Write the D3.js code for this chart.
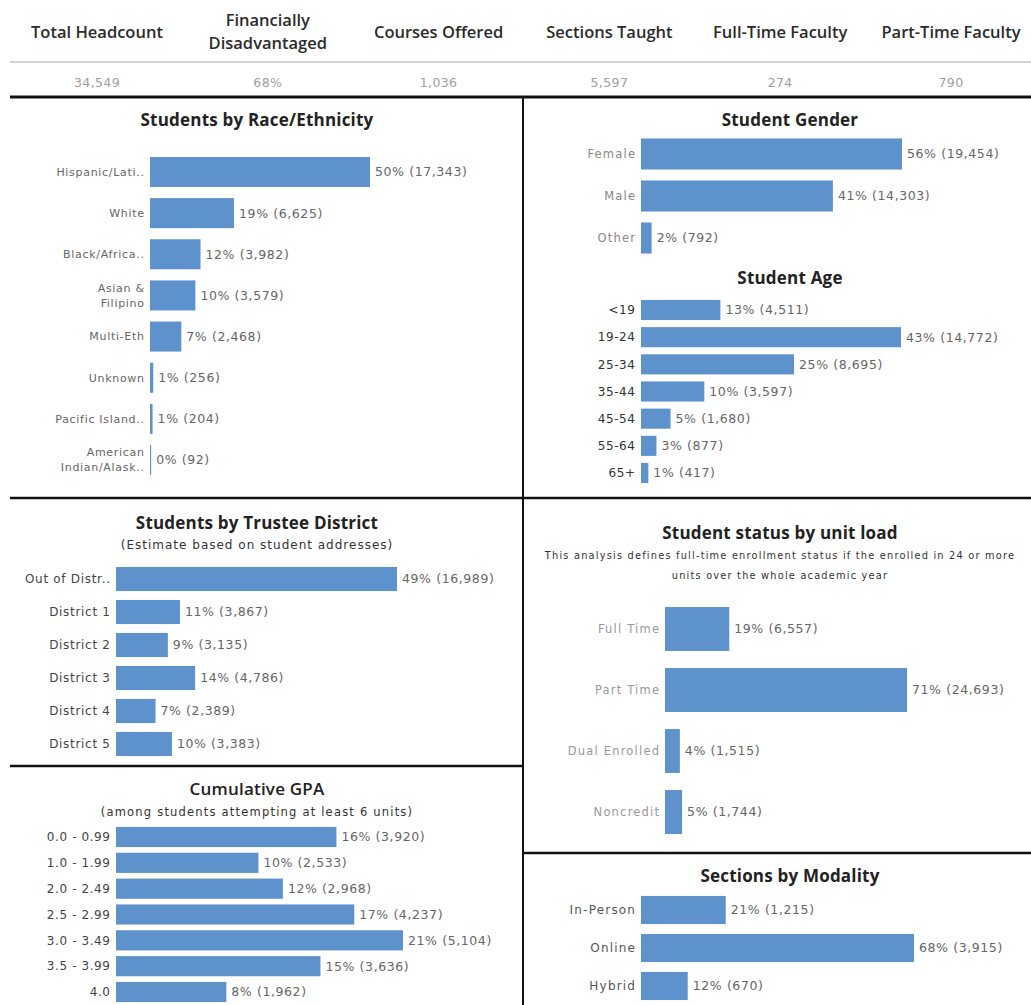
<!DOCTYPE html>
<html>
<head>
<meta charset="utf-8">
<script src="https://cdn.jsdelivr.net/npm/d3@7"></script>
<style>
  body { margin: 0; background: #fff; }
  svg { display: block; }
</style>
</head>
<body>
<script>
// header numbers
var kpiNames = [["Total Headcount"], ["Financially", "Disadvantaged"], ["Courses Offered"],
                ["Sections Taught"], ["Full-Time Faculty"], ["Part-Time Faculty"]];
var kpiValues = ["34,549", "68%", "1,036", "5,597", "274", "790"];

// race / ethnicity
var raceCats = [["Hispanic/Lati.."], ["White"], ["Black/Africa.."], ["Asian &", "Filipino"],
                ["Multi-Eth"], ["Unknown"], ["Pacific Island.."], ["American", "Indian/Alask.."]];
var raceCounts = [17343, 6625, 3982, 3579, 2468, 256, 204, 92];
var racePcts = [50, 19, 12, 10, 7, 1, 1, 0];

// gender
var genderCats = [["Female"], ["Male"], ["Other"]];
var genderCounts = [19454, 14303, 792];
var genderPcts = [56, 41, 2];

// age
var ageCats = [["<19"], ["19-24"], ["25-34"], ["35-44"], ["45-54"], ["55-64"], ["65+"]];
var ageCounts = [4511, 14772, 8695, 3597, 1680, 877, 417];
var agePcts = [13, 43, 25, 10, 5, 3, 1];

// trustee district
var districtCats = [["Out of Distr.."], ["District 1"], ["District 2"], ["District 3"],
                    ["District 4"], ["District 5"]];
var districtCounts = [16989, 3867, 3135, 4786, 2389, 3383];
var districtPcts = [49, 11, 9, 14, 7, 10];

// unit load
var unitCats = [["Full Time"], ["Part Time"], ["Dual Enrolled"], ["Noncredit"]];
var unitCounts = [6557, 24693, 1515, 1744];
var unitPcts = [19, 71, 4, 5];

// cumulative gpa
var gpaCats = [["0.0 - 0.99"], ["1.0 - 1.99"], ["2.0 - 2.49"], ["2.5 - 2.99"], ["3.0 - 3.49"],
               ["3.5 - 3.99"], ["4.0"]];
var gpaCounts = [3920, 2533, 2968, 4237, 5104, 3636, 1962];
var gpaPcts = [16, 10, 12, 17, 21, 15, 8];

// modality
var modeCats = [["In-Person"], ["Online"], ["Hybrid"]];
var modeCounts = [1215, 3915, 670];
var modePcts = [21, 68, 12];

var w = 1031;
var h = 1005;
var barColor = "#5e92cc";
var titleFont = "'Open Sans', sans-serif";
var textFont = "'DejaVu Sans', sans-serif";

var svg = d3.select("body")
            .append("svg")
            .attr("width", w)
            .attr("height", h);

// header row
var kpiX = d3.scalePoint()
             .domain(d3.range(kpiNames.length))
             .range([97, 951]);

kpiNames.forEach(function(lines, i) {
  var t = svg.append("text")
     .attr("x", kpiX(i))
     .attr("text-anchor", "middle")
     .style("font-family", "'Open Sans', sans-serif")
     .style("font-weight", "600")
     .style("font-size", "16.5px")
     .attr("fill", "#2b2b2b");
  var y0 = lines.length == 1 ? 38 : 26;
  lines.forEach(function(l, j) {
    t.append("tspan").attr("x", kpiX(i)).attr("y", y0 + j * 23).text(l);
  });
  svg.append("text")
     .attr("x", kpiX(i))
     .attr("y", 87)
     .attr("text-anchor", "middle")
     .style("font-family", textFont)
     .style("font-size", "12.5px")
     .style("letter-spacing", "0.4px")
     .attr("fill", "#a0a0a0")
     .text(kpiValues[i]);
});

// separator lines
svg.append("line").attr("x1", 10).attr("x2", w).attr("y1", 62).attr("y2", 62)
   .attr("stroke", "#d4d4d4").attr("stroke-width", 2);
svg.append("line").attr("x1", 10).attr("x2", w).attr("y1", 97).attr("y2", 97)
   .attr("stroke", "#111").attr("stroke-width", 3);
svg.append("line").attr("x1", 523).attr("x2", 523).attr("y1", 97).attr("y2", h)
   .attr("stroke", "#111").attr("stroke-width", 2);
svg.append("line").attr("x1", 10).attr("x2", w).attr("y1", 498).attr("y2", 498)
   .attr("stroke", "#111").attr("stroke-width", 2.5);
svg.append("line").attr("x1", 10).attr("x2", 523).attr("y1", 766).attr("y2", 766)
   .attr("stroke", "#111").attr("stroke-width", 2.5);
svg.append("line").attr("x1", 523).attr("x2", w).attr("y1", 853).attr("y2", 853)
   .attr("stroke", "#111").attr("stroke-width", 2.5);

// draws one horizontal bar panel
function barPanel(p) {
  var g = svg.append("g");

  var x = d3.scaleLinear()
            .domain([0, d3.max(p.counts)])
            .range([0, p.maxW]);

  var step = (p.lastY - p.firstY) / (p.cats.length - 1);
  var y = d3.scaleBand()
            .domain(d3.range(p.cats.length))
            .range([p.firstY - step / 2, p.lastY + step / 2])
            .paddingInner(p.pad)
            .paddingOuter(p.pad / 2);

  // title and subtitles
  if (p.title) {
    g.append("text")
     .attr("x", p.cx)
     .attr("y", p.titleY)
     .attr("text-anchor", "middle")
     .style("font-family", titleFont)
     .style("font-weight", p.titleWeight || "bold")
     .style("font-size", "17px")
     .style("letter-spacing", "0.2px")
     .attr("fill", "#222")
     .text(p.title);
  }
  (p.subs || []).forEach(function(s, i) {
    g.append("text")
     .attr("x", p.cx)
     .attr("y", p.titleY + p.subGap + i * 20)
     .attr("text-anchor", "middle")
     .style("font-family", textFont)
     .style("font-size", p.subSize)
     .style("letter-spacing", p.subSpacing)
     .attr("fill", "#333")
     .text(s);
  });

  g.selectAll("rect.bar")
   .data(p.counts)
   .enter()
   .append("rect")
   .attr("class", "bar")
   .attr("x", p.x0)
   .attr("y", function(d, i) { return y(i); })
   .attr("width", function(d) { return x(d); })
   .attr("height", y.bandwidth())
   .attr("fill", barColor);

  // value labels
  g.selectAll("text.val")
   .data(p.counts)
   .enter()
   .append("text")
   .attr("class", "val")
   .attr("x", function(d) { return p.x0 + x(d) + 5; })
   .attr("y", function(d, i) { return y(i) + y.bandwidth() / 2; })
   .attr("dy", "0.35em")
   .style("font-family", textFont)
   .style("font-size", "12.5px")
   .style("letter-spacing", "0.6px")
   .attr("fill", "#666")
   .text(function(d, i) { return p.pcts[i] + "% (" + d3.format(",")(d) + ")"; });

  // category labels
  p.cats.forEach(function(lines, i) {
    var t = g.append("text")
             .attr("text-anchor", "end")
             .style("font-family", textFont)
             .style("font-size", p.labelSize)
             .style("letter-spacing", p.labelSpacing + "px")
             .attr("fill", p.labelColor);
    var mid = y(i) + y.bandwidth() / 2;
    lines.forEach(function(l, j) {
      t.append("tspan")
       .attr("x", p.x0 - 6 + p.labelSpacing)
       .attr("y", mid + (j - (lines.length - 1) / 2) * 15)
       .attr("dy", "0.35em")
       .text(l);
    });
  });
}

barPanel({ cats: raceCats, counts: raceCounts, pcts: racePcts,
           title: "Students by Race/Ethnicity", cx: 257, titleY: 126,
           x0: 150, maxW: 220, firstY: 172, lastY: 460, pad: 0.27,
           labelSize: "11px", labelSpacing: 0.7, labelColor: "#666" });

barPanel({ cats: genderCats, counts: genderCounts, pcts: genderPcts,
           title: "Student Gender", cx: 790, titleY: 126,
           x0: 641, maxW: 261, firstY: 154, lastY: 238, pad: 0.26,
           labelSize: "11.5px", labelSpacing: 1.2, labelColor: "#888" });

barPanel({ cats: ageCats, counts: ageCounts, pcts: agePcts,
           title: "Student Age", cx: 790, titleY: 284,
           x0: 641, maxW: 260, firstY: 310, lastY: 473, pad: 0.26,
           labelSize: "12px", labelSpacing: 0.6, labelColor: "#333" });

barPanel({ cats: districtCats, counts: districtCounts, pcts: districtPcts,
           title: "Students by Trustee District", cx: 257, titleY: 529,
           subs: ["(Estimate based on student addresses)"], subGap: 20,
           subSize: "12px", subSpacing: "1px",
           x0: 116, maxW: 281, firstY: 579, lastY: 744, pad: 0.27,
           labelSize: "12px", labelSpacing: 0.7, labelColor: "#444" });

barPanel({ cats: unitCats, counts: unitCounts, pcts: unitPcts,
           title: "Student status by unit load", cx: 780, titleY: 539,
           subs: ["This analysis defines full-time enrollment status if the enrolled in 24 or more",
                  "units over the whole academic year"], subGap: 20,
           subSize: "9.8px", subSpacing: "1.2px",
           x0: 665, maxW: 242, firstY: 629, lastY: 812, pad: 0.28,
           labelSize: "11.5px", labelSpacing: 1.2, labelColor: "#999" });

barPanel({ cats: gpaCats, counts: gpaCounts, pcts: gpaPcts,
           title: "Cumulative GPA", titleWeight: "600", cx: 257, titleY: 795,
           subs: ["(among students attempting at least 6 units)"], subGap: 21,
           subSize: "11.5px", subSpacing: "1.2px",
           x0: 116, maxW: 287, firstY: 837, lastY: 992, pad: 0.22,
           labelSize: "12px", labelSpacing: 0.6, labelColor: "#444" });

barPanel({ cats: modeCats, counts: modeCounts, pcts: modePcts,
           title: "Sections by Modality", cx: 790, titleY: 882,
           x0: 641, maxW: 273, firstY: 910, lastY: 986, pad: 0.26,
           labelSize: "12px", labelSpacing: 1.2, labelColor: "#555" });
</script>
</body>
</html>
